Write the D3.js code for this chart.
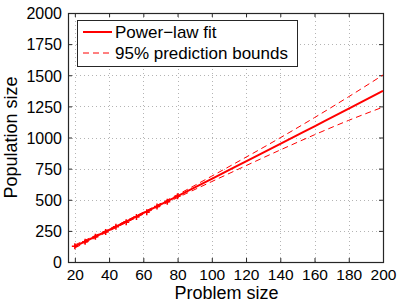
<!DOCTYPE html>
<html>
<head>
<meta charset="utf-8">
<script src="https://cdn.jsdelivr.net/npm/d3@7"></script>
<style>
  body { margin: 0; background: #fff; }
  text { font-family: "Liberation Sans", Arial, sans-serif; fill: #000; }
</style>
</head>
<body>
<div id="chart"></div>
<script>
(function () {
  // values
  var fitX = [20, 40, 60, 80, 100, 120, 140, 160, 180, 200];
  var fitY = [125, 257, 392, 529, 668, 808, 948, 1090, 1232, 1375];
  var upperY = [137, 265, 400, 541, 690, 842, 998, 1160, 1328, 1502];
  var lowerY = [113, 249, 384, 517, 646, 774, 900, 1022, 1138, 1244];
  var pointX = [20, 26, 32, 38, 44, 50, 56, 62, 68, 74, 80];
  var pointY = [126, 162, 203, 241, 283, 319, 361, 399, 446, 484, 529];
  var xTicks = [20, 40, 60, 80, 100, 120, 140, 160, 180, 200];
  var yTicks = [0, 250, 500, 750, 1000, 1250, 1500, 1750, 2000];
  var legendLabels = ['Power\u2212law fit', '95% prediction bounds'];

  var width = 405, height = 305;
  var left = 68, right = 383, top = 13, bottom = 262;

  var svg = d3.select('#chart').append('svg')
    .attr('width', width)
    .attr('height', height);

  var x = d3.scaleLinear().domain([16, 200]).range([left, right]);
  var y = d3.scaleLinear().domain([0, 2000]).range([bottom, top]);

  // grid
  var grid = svg.append('g').attr('class', 'grid')
    .attr('stroke', '#b4b4b4').attr('stroke-width', 1).attr('stroke-dasharray', '1,3');
  grid.selectAll('.gx').data(xTicks).enter().append('line')
    .attr('x1', function(d) { return Math.round(x(d)) + 0.5; })
    .attr('x2', function(d) { return Math.round(x(d)) + 0.5; })
    .attr('y1', top).attr('y2', bottom);
  grid.selectAll('.gy').data(yTicks.slice(1, -1)).enter().append('line')
    .attr('y1', function(d) { return Math.round(y(d)) + 0.5; })
    .attr('y2', function(d) { return Math.round(y(d)) + 0.5; })
    .attr('x1', left).attr('x2', right);

  // axes with inward ticks
  var fmt = d3.format('d');
  var xAxis = d3.axisBottom(x).tickValues(xTicks).tickFormat(fmt).tickSizeInner(-4).tickSizeOuter(0).tickPadding(7);
  var yAxis = d3.axisLeft(y).tickValues(yTicks).tickFormat(fmt).tickSizeInner(-4).tickSizeOuter(0).tickPadding(6);
  var gx = svg.append('g').attr('transform', 'translate(0,' + bottom + ')').call(xAxis);
  var gy = svg.append('g').attr('transform', 'translate(' + left + ',0)').call(yAxis);
  svg.append('g').attr('transform', 'translate(0,' + top + ')')
    .call(d3.axisTop(x).tickValues(xTicks).tickSizeInner(-4).tickSizeOuter(0).tickFormat(''));
  svg.append('g').attr('transform', 'translate(' + right + ',0)')
    .call(d3.axisRight(y).tickValues(yTicks).tickSizeInner(-4).tickSizeOuter(0).tickFormat(''));
  svg.selectAll('.domain').remove();
  svg.selectAll('.tick line').attr('stroke', '#262626');
  gx.selectAll('text').style('font-size', '15.5px');
  gy.selectAll('text').style('font-size', '16px').attr('dy', '0.36em');

  svg.append('rect')
    .attr('x', left + 0.5).attr('y', top + 0.5)
    .attr('width', right - left).attr('height', bottom - top)
    .attr('fill', 'none').attr('stroke', '#262626').attr('stroke-width', 1.2);

  // lines
  var fitData = fitX.map(function(d, i) { return [d, fitY[i]]; });
  var upData = fitX.map(function(d, i) { return [d, upperY[i]]; });
  var loData = fitX.map(function(d, i) { return [d, lowerY[i]]; });
  var line = d3.line()
    .x(function(d) { return x(d[0]); })
    .y(function(d) { return y(d[1]); })
    .curve(d3.curveMonotoneX);

  svg.append('g').selectAll('.pt').data(pointX).enter().append('path')
    .attr('transform', function(d, i) { return 'translate(' + x(d) + ',' + y(pointY[i]) + ')'; })
    .attr('d', 'M-3,0H3M0,-3V3')
    .attr('stroke', '#ff0000').attr('stroke-width', 1.5);

  [upData, loData].forEach(function(data) {
    svg.append('path').datum(data).attr('d', line)
      .attr('fill', 'none').attr('stroke', '#ff0000').attr('stroke-width', 1)
      .attr('stroke-dasharray', '6,4');
  });
  svg.append('path').datum(fitData).attr('d', line)
    .attr('fill', 'none').attr('stroke', '#ff0000').attr('stroke-width', 2);

  // axis labels
  svg.append('text')
    .attr('x', (left + right) / 2 + 1).attr('y', 299)
    .attr('text-anchor', 'middle').style('font-size', '18px')
    .text('Problem size');
  svg.append('text')
    .attr('transform', 'translate(17,' + ((top + bottom) / 2) + ') rotate(-90)')
    .attr('text-anchor', 'middle').style('font-size', '18px')
    .text('Population size');

  // legend
  var legend = svg.append('g');
  legend.append('rect')
    .attr('x', 77.5).attr('y', 20.5).attr('width', 220).attr('height', 46)
    .attr('fill', '#fff').attr('stroke', '#262626').attr('stroke-width', 1);
  legendLabels.forEach(function(label, i) {
    var ly = 32 + i * 21;
    legend.append('line')
      .attr('x1', 83).attr('x2', 112).attr('y1', ly).attr('y2', ly)
      .attr('stroke', '#ff0000')
      .attr('stroke-width', i === 0 ? 2 : 1)
      .attr('stroke-dasharray', i === 0 ? null : '6,4');
    legend.append('text')
      .attr('x', 115).attr('y', ly).attr('dy', '0.36em')
      .style('font-size', '17px')
      .text(label);
  });
})();
</script>
</body>
</html>
